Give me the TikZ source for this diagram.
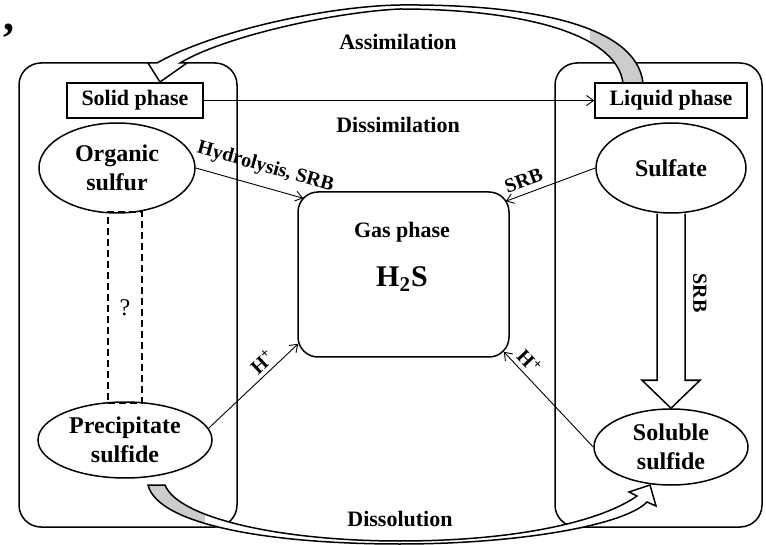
\documentclass[tikz,border=0pt]{standalone}
\usepackage{fontspec}
\setmainfont{Liberation Serif}
\usetikzlibrary{arrows.meta,shapes.geometric}

\begin{document}
\begin{tikzpicture}[x=0.5pt,y=-0.5pt,>={Straight Barb[length=3.5pt,width=5pt]},
    frame/.style={draw,line width=0.75pt,rounded corners=11pt},
    phase/.style={draw,line width=0.75pt,minimum height=17.5pt,inner sep=0pt,font=\fontsize{11}{13}\selectfont\bfseries},
    pool/.style={draw,ellipse,line width=0.75pt,inner sep=0pt,align=center,font=\fontsize{12}{14.5}\selectfont\bfseries},
    title/.style={font=\fontsize{11}{13}\selectfont\bfseries},
    flow/.style={->,line width=0.45pt},
    lab/.style={font=\fontsize{10}{12}\selectfont\bfseries,inner sep=2pt},
    band/.style={line width=0.75pt,fill=white,line join=miter},
    shade/.style={fill=black!20}]
    \useasboundingbox (0,0) rectangle (766,545);

    % the two phases on the sides
    \draw[frame] (19,63) rectangle (237,527);
    \draw[frame] (555,63) rectangle (762,527);

    \node[phase,minimum width=68pt] (solid) at (135,100.5) {Solid phase};
    \node[phase,minimum width=76pt] (liquid) at (671,100.5) {Liquid phase};

    \node[pool,minimum width=78pt,minimum height=45pt] (organic) at (117,168) {Organic\\sulfur};
    \node[pool,minimum width=87pt,minimum height=38pt] (precip) at (125,440) {Precipitate\\sulfide};
    \node[pool,minimum width=75pt,minimum height=45pt] (sulfate) at (671,168) {Sulfate};
    \node[pool,minimum width=77pt,minimum height=38pt] (soluble) at (671,447) {Soluble\\sulfide};

    % gas phase in the middle
    \node[draw,line width=0.75pt,rounded corners=10pt,minimum width=105.5pt,minimum height=82.5pt] (gas) at (403.5,274.5) {};
    \node[title] (gastitle) at (402,232) {Gas phase};
    \node[font=\fontsize{15}{17}\selectfont\bfseries] (h2s) at (402,279) {H\textsubscript{2}S};

    \node[draw,dash pattern=on 3.5pt off 2pt,line width=0.8pt,minimum width=17pt,minimum height=95.5pt,inner sep=0pt,
        font=\normalfont\fontsize{12}{14}\selectfont] (link) at (125,307.5) {?};

    \node[title] (assim) at (398,42) {Assimilation};
    \node[title] (dissim) at (398,125) {Dissimilation};
    \node[title] (dissol) at (400,519) {Dissolution};
    \node[font=\fontsize{22}{22}\selectfont\bfseries,inner sep=0pt] (tick) at (9,31) {,};

    % thin arrows
    \draw[flow] (solid) -- (liquid);
    \draw[flow] (organic.east) -- ([shift={(6,7)}]gas.north west) node[lab,sloped,above=3pt,pos=0.6] {Hydrolysis, SRB};
    \draw[flow] (sulfate.west) -- ([shift={(-4,10)}]gas.north east) node[lab,sloped,above=1pt,pos=0.75] {SRB};
    \draw[flow] (precip.8) -- ([shift={(1,-14)}]gas.south west) node[lab,sloped,above,pos=0.69] {H\textsuperscript{+}};
    \draw[flow] (soluble.west) -- ([shift={(-6,-6)}]gas.south east) node[lab,sloped,above,pos=0.81] {H\textsuperscript{+}};

    % hollow arrow sulfate -> soluble sulfide
    \draw[line width=0.75pt] ([shift={(-14,0)}]sulfate.south) -- ([shift={(-14,-28)}]soluble.north)
        -- ([shift={(-29,-28)}]soluble.north) -- (soluble.north) -- ([shift={(29,-28)}]soluble.north)
        -- ([shift={(14,-28)}]soluble.north) -- ([shift={(14,0)}]sulfate.south);
    \node[lab,rotate=-90] (srb) at (700,293) {SRB};

    % curved band arrows
    \filldraw[band,path picture={\fill[shade] (590,20) rectangle (660,90);}]
        (643,83) .. controls (636,22) and (520,4) .. (400,5) .. controls (330,6) and (215,30) .. (157,63)
        -- (148,63) -- (160,82) -- (187,63) -- (180,63)
        .. controls (225,36) and (335,12) .. (400,9) .. controls (510,9) and (616,30) .. (623,83) -- cycle;
    \filldraw[band,path picture={\fill[shade] (130,470) rectangle (205,550);}]
        (148,485) .. controls (158,525) and (270,544) .. (400,544) .. controls (520,544) and (625,525) .. (647,502)
        -- (656,506) -- (650,485) -- (629,492) -- (637,496)
        .. controls (600,522) and (515,541) .. (400,541) .. controls (280,541) and (178,518) .. (165,485) -- cycle;
\end{tikzpicture}
\end{document}
